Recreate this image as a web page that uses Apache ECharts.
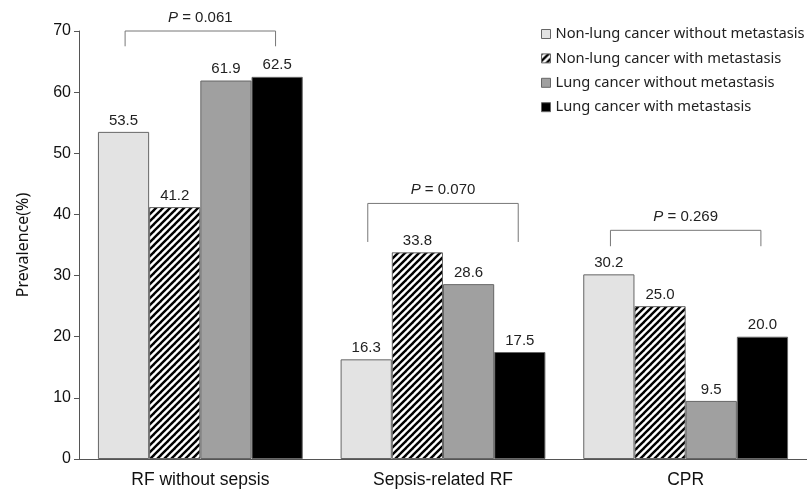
<!DOCTYPE html>
<html>
<head>
<meta charset="utf-8">
<script src="https://cdn.jsdelivr.net/npm/echarts@6/dist/echarts.min.js"></script>
<style>html,body{margin:0;padding:0;background:#fff;}#main{width:807px;height:490px;}</style>
</head>
<body>
<div id="main"></div>
<script>
var categories = ['RF without sepsis', 'Sepsis-related RF', 'CPR'];
var seriesNames = ['Non-lung cancer without metastasis', 'Non-lung cancer with metastasis', 'Lung cancer without metastasis', 'Lung cancer with metastasis'];
var nonLungNoMet = [53.5, 16.3, 30.2];
var nonLungMet = [41.2, 33.8, 25.0];
var lungNoMet = [61.9, 28.6, 9.5];
var lungMet = [62.5, 17.5, 20.0];
var yTicks = [0, 10, 20, 30, 40, 50, 60, 70];
// brackets: category index, top value, end value, p text
var bracketCats = [0, 1, 2];
var bracketTop = [70.0, 41.8, 37.4];
var bracketEnd = [67.5, 35.5, 34.8];
var bracketText = ['0.061', '0.070', '0.269'];

function hatch() {
  var s = 7;
  var c = document.createElement('canvas');
  c.width = s; c.height = s;
  var ctx = c.getContext('2d');
  ctx.fillStyle = '#fff';
  ctx.fillRect(0, 0, s, s);
  ctx.strokeStyle = '#000';
  ctx.lineWidth = 2.4;
  for (var k = -1; k <= 1; k++) {
    ctx.beginPath();
    ctx.moveTo(-1 + k * s, s + 1);
    ctx.lineTo(s + 1 + k * s, -1);
    ctx.stroke();
  }
  return c;
}

var FONT = 'Liberation Sans, Arial, sans-serif';
var chart = echarts.init(document.getElementById('main'), null, {renderer: 'canvas'});
var labelStyle = {show: true, position: 'top', distance: 4, fontFamily: FONT, fontSize: 15, color: '#222', formatter: function (p) { return p.value.toFixed(1); }};
var border = {borderColor: '#666', borderWidth: 1};
var colors = ['#e3e3e3', {image: hatch(), repeat: 'repeat'}, '#a0a0a0', '#000000'];
var dataSets = [nonLungNoMet, nonLungMet, lungNoMet, lungMet];

var series = dataSets.map(function (d, i) {
  return {
    name: seriesNames[i], type: 'bar', data: d,
    barGap: '0%', barCategoryGap: '15.6%',
    itemStyle: Object.assign({color: colors[i]}, border),
    label: labelStyle
  };
});

series.push({
  type: 'custom',
  silent: true,
  z: 10,
  data: bracketCats.map(function (c, i) { return [c, bracketTop[i], bracketEnd[i], i]; }),
  encode: {x: 0, y: 1},
  renderItem: function (params, api) {
    var c = api.value(0), top = api.value(1), end = api.value(2), idx = api.value(3);
    var p1 = api.coord([c, top]);
    var p2 = api.coord([c, end]);
    var w = api.size([1, 0])[0];
    var xl = p1[0] - 0.31 * w, xr = p1[0] + 0.31 * w;
    return {
      type: 'group',
      children: [
        {type: 'polyline', shape: {points: [[xl, p2[1]], [xl, p1[1]], [xr, p1[1]], [xr, p2[1]]]}, style: {stroke: '#777', lineWidth: 1, fill: null}},
        {type: 'text', x: p1[0], y: p1[1] - 6, style: {text: '{i|P} = ' + bracketText[idx], align: 'center', verticalAlign: 'bottom', fontFamily: FONT, fontSize: 15, fill: '#222', rich: {i: {fontStyle: 'italic', fontFamily: FONT, fontSize: 15, fill: '#222'}}}}
      ]
    };
  }
});

chart.setOption({
  animation: false,
  backgroundColor: '#fff',
  grid: {left: 79, top: 31, width: 729, bottom: 31, containLabel: false},
  legend: {
    orient: 'vertical', left: 541, top: 26, padding: 0,
    itemWidth: 9, itemHeight: 9, itemGap: 8.4,
    icon: 'rect',
    data: seriesNames,
    textStyle: {fontFamily: 'Noto Sans, sans-serif', fontSize: 14.7, color: '#222', lineHeight: 16},
    itemStyle: {borderColor: '#666', borderWidth: 1}
  },
  xAxis: {
    type: 'category', data: categories,
    axisLine: {lineStyle: {color: '#555', width: 1}},
    axisTick: {show: false},
    axisLabel: {fontFamily: FONT, fontSize: 17.5, color: '#111', margin: 12}
  },
  yAxis: {
    type: 'value', min: yTicks[0], max: yTicks[yTicks.length - 1], interval: 10,
    name: 'Prevalence(%)', nameLocation: 'middle', nameGap: 48,
    nameTextStyle: {fontFamily: 'Noto Sans, sans-serif', fontSize: 16, color: '#111'},
    axisLine: {show: true, lineStyle: {color: '#555', width: 1}},
    axisTick: {show: true, length: 5, lineStyle: {color: '#555'}},
    splitLine: {show: false},
    axisLabel: {fontFamily: FONT, fontSize: 16, color: '#111', margin: 8}
  },
  series: series
});
</script>
</body>
</html>
